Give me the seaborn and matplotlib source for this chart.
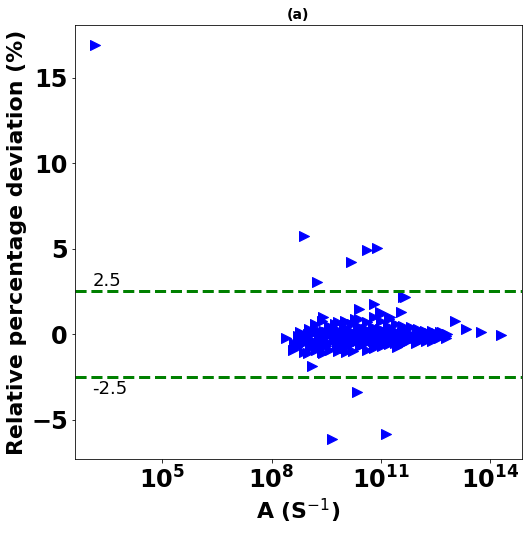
import numpy as np
import pandas as pd
import seaborn as sns
import matplotlib
matplotlib.use('Agg')
import matplotlib.pyplot as plt

# log10 of A (s^-1) and relative percentage deviation
log_a = [3.17, 8.88, 10.63, 10.88, 10.17, 9.24, 11.65, 11.60, 10.34, 9.66, 11.14,
         14.30, 13.73, 13.34, 13.04, 9.12, 10.40, 10.80, 11.54, 10.97, 9.41,
         8.41, 8.76, 8.88, 9.00, 9.75, 10.05, 10.30, 11.00, 11.25,
         9.41, 10.05, 11.45, 11.95, 12.40, 12.77,
         8.62, 8.58, 8.79, 8.83, 8.77, 9.03, 8.98, 9.05, 9.01,
         9.18, 9.23, 9.17, 9.21, 9.38, 9.44, 9.36, 9.42, 9.39,
         9.58, 9.63, 9.57, 9.61, 9.82, 9.78, 9.84, 9.79, 9.81,
         10.02, 9.98, 10.03, 9.99, 10.01, 10.21, 10.18, 10.23, 10.19, 10.22,
         10.41, 10.38, 10.43, 10.39, 10.42, 10.61, 10.58, 10.63, 10.59, 10.62,
         10.81, 10.78, 10.83, 10.79, 10.82, 11.01, 10.98, 11.03, 10.99, 11.02,
         11.21, 11.18, 11.23, 11.19, 11.22, 11.41, 11.38, 11.43, 11.39,
         11.61, 11.58, 11.63, 11.59, 11.81, 11.78, 11.83, 12.01, 11.98, 12.03,
         12.21, 12.18, 12.23, 12.41, 12.38, 12.61, 12.58, 12.81, 12.78,
         9.50, 9.90, 10.10, 10.50, 10.70, 10.90, 11.10, 11.30, 11.70, 12.10, 12.50,
         8.70, 8.90, 9.10, 9.30, 9.50, 9.70, 9.90, 10.10, 10.30, 10.50,
         10.70, 10.90, 11.10, 11.30, 11.50, 11.70, 11.90, 12.10, 12.30, 12.50, 12.70,
         8.72, 8.93, 9.12, 9.31, 9.52, 9.71, 9.92, 10.11, 10.32, 10.51,
         10.72, 10.91, 11.12, 11.31, 11.52, 11.71, 11.92, 12.11, 12.32, 12.52, 12.68,
         9.08, 9.27, 9.48, 9.67, 9.88, 10.07, 10.28, 10.47, 10.68, 10.87,
         11.08, 11.27, 11.48, 11.67, 11.88, 12.07, 12.28]
deviation = [16.93, 5.76, 4.95, 5.07, 4.25, 3.07, 2.20, 2.15, -3.38, -6.15, -5.85,
             -0.03, 0.13, 0.28, 0.79, -1.85, 1.46, 1.78, 1.28, 1.32, 1.03,
             -0.20, -0.19, -1.03, 0.00, 0.62, 0.74, 0.90, 1.20, 1.03,
             -1.10, -1.03, -0.73, -0.50, -0.40, -0.20,
             -0.50, -0.90, 0.10, -0.60, -0.30, 0.30, -0.20, -0.80, -1.10,
             0.60, 0.10, -0.40, -0.90, 0.80, 0.20, -0.30, -0.70, -1.05,
             0.50, 0.00, -0.50, -0.90, 0.70, 0.30, -0.10, -0.60, -1.00,
             0.80, 0.40, 0.00, -0.40, -0.80, 0.60, 0.20, -0.20, -0.60, -1.00,
             0.90, 0.50, 0.10, -0.30, -0.70, 0.70, 0.30, -0.10, -0.50, -0.90,
             1.00, 0.40, 0.00, -0.40, -0.80, 0.80, 0.30, -0.10, -0.50, -0.70,
             0.90, 0.50, 0.10, -0.30, -0.60, 0.60, 0.20, -0.20, -0.50,
             0.50, 0.10, -0.30, -0.60, 0.40, 0.00, -0.30, 0.30, 0.00, -0.40,
             0.20, -0.10, -0.40, 0.20, -0.20, 0.10, -0.20, 0.00, -0.10,
             -0.15, 0.15, -0.35, -0.05, 0.05, -0.25, 0.20, -0.15, 0.15, -0.15, 0.05,
             -0.75, -0.45, -0.65, -0.55, -0.70, -0.35, -0.75, -0.55, -0.45, -0.60,
             -0.30, -0.60, -0.35, -0.45, -0.35, -0.45, -0.20, -0.25, -0.30, -0.10, -0.05,
             -0.10, -0.05, 0.05, -0.10, 0.10, -0.20, 0.00, -0.15, -0.05, 0.05,
             -0.15, 0.10, -0.05, 0.00, -0.10, 0.05, -0.10, 0.00, 0.05, -0.05, 0.10,
             -0.55, 0.25, -0.45, 0.20, -0.35, 0.25, -0.45, 0.35, -0.30, 0.20,
             -0.40, 0.30, -0.35, 0.25, -0.20, 0.15, -0.30]

limit = 2.5

df = pd.DataFrame({'A': 10.0 ** np.array(log_a), 'dev': deviation})

fig = plt.figure(figsize=(528 / 72, 533 / 72), dpi=72)
ax = fig.add_axes([0.142, 0.139, 0.846, 0.8135])

sns.scatterplot(data=df, x='A', y='dev', marker='>', s=100, color='blue',
                edgecolor='blue', linewidth=1, ax=ax)
ax.set_xscale('log')

ax.axhline(limit, color='green', linestyle='--', linewidth=3)
ax.axhline(-limit, color='green', linestyle='--', linewidth=3)
ax.text(1.25e3, limit + 0.3, '2.5', fontsize=18)
ax.text(1.25e3, -limit - 1.0, '-2.5', fontsize=18)

ax.set_title('(a)', fontsize=14, fontweight='bold')
ax.set_xlabel(r'A (S$^{-1}$)', fontsize=22, fontweight='bold')
ax.set_ylabel('Relative percentage deviation (%)', fontsize=22, fontweight='bold')
ax.set_xticks([1e5, 1e8, 1e11, 1e14])
ax.set_yticks([-5, 0, 5, 10, 15])
ax.tick_params(labelsize=24)
for lab in ax.get_xticklabels() + ax.get_yticklabels():
    lab.set_fontweight('bold')
ax.xaxis.set_major_formatter(matplotlib.ticker.FuncFormatter(
    lambda v, p: r'$\mathbf{10^{%d}}$' % round(np.log10(v))))

fig.savefig('out.png', dpi=72)
